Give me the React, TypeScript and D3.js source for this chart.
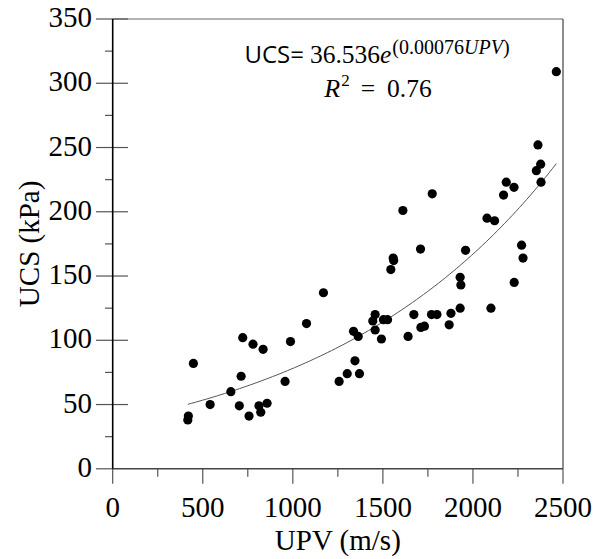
import React from "react";
import * as d3 from "d3";

const upv = [417,420,448,541,656,703,713,722,757,779,812,822,835,857,957,987,1076,1170,1257,1302,1370,1345,1337,1363,1457,1444,1457,1492,1503,1526,1544,1557,1560,1640,1672,1709,1711,1731,1770,1800,1868,1878,1929,1933,1929,1959,2100,2229,2270,2278,2463,2361,2376,2352,2378,2185,2228,2170,2078,2120,1774,1611];
const ucs = [38,41,82,50,60,49,72,102,41,97,49,44,93,51,68,99,113,137,68,74,74,84,107,103,120,115,108,101,116,116,155,164,162,103,120,171,110,111,120,120,112,121,149,143,125,170,125,145,174,164,309,252,237,232,223,223,219,213,195,193,214,201];
const xTicks = [0, 500, 1000, 1500, 2000, 2500];
const yTicks = [0, 50, 100, 150, 200, 250, 300, 350];
const fitA = 36.536;
const fitB = 0.00076;

const W = 594, H = 559;
const L = 112.7, R = 563, T = 19, B = 468.8;

const SERIF = "Liberation Serif";
const SANS = "Open Sans";

export default function App() {
  const x = d3.scaleLinear().domain([0, 2500]).range([L, R]);
  const y = d3.scaleLinear().domain([0, 350]).range([B, T]);
  const xMinor = d3.range(250, 2500, 500);
  const yMinor = d3.range(25, 350, 50);
  const xMin = d3.min(upv) as number, xMax = d3.max(upv) as number;
  const curvePts = d3.range(0, 101).map(i => {
    const u = xMin + (xMax - xMin) * i / 100;
    return [u, fitA * Math.exp(fitB * u)] as [number, number];
  });
  const line = d3.line<[number, number]>().x(d => x(d[0])).y(d => y(d[1]));
  const tickCol = "#555";
  return (
    <svg width={W} height={H} fontFamily={SERIF}
      style={{ position: "absolute", left: 0, top: 0, background: "#fff", fontFamily: SERIF }}>
      <rect x={0} y={0} width={W} height={H} fill="#fff" />
      {/* frame */}
      <line x1={L} x2={R} y1={T} y2={T} stroke="#666" strokeWidth={1.2} />
      <line x1={R} x2={R} y1={T} y2={B} stroke="#444" strokeWidth={1.2} />
      {/* y ticks */}
      {yTicks.map(t => (
        <g key={"yt" + t}>
          <line x1={96} x2={t === 0 ? L : 128} y1={y(t)} y2={y(t)} stroke={tickCol} strokeWidth={1.2} />
          <text x={92} y={y(t) + 8} textAnchor="end" fontFamily={SERIF} style={{ fontFamily: SERIF }} fontSize={29} fill="#000">{t}</text>
        </g>
      ))}
      {yMinor.map(t => (
        <line key={"ym" + t} x1={105} x2={L} y1={y(t)} y2={y(t)} stroke={tickCol} strokeWidth={1.2} />
      ))}
      {/* x ticks */}
      {xTicks.map(t => (
        <g key={"xt" + t}>
          <line x1={x(t)} x2={x(t)} y1={B} y2={B + 15} stroke={tickCol} strokeWidth={1.2} />
          <text x={x(t)} y={517} textAnchor="middle" fontFamily={SERIF} style={{ fontFamily: SERIF }} fontSize={29} fill="#000">{t}</text>
        </g>
      ))}
      {xMinor.map(t => (
        <line key={"xm" + t} x1={x(t)} x2={x(t)} y1={B} y2={B + 8} stroke={tickCol} strokeWidth={1.2} />
      ))}
      {/* axes */}
      <line x1={L} x2={R} y1={B} y2={B} stroke="#444" strokeWidth={1.4} />
      <line x1={L} x2={L} y1={T} y2={B} stroke="#000" strokeWidth={1.6} />
      {/* fit curve */}
      <path d={line(curvePts) || ""} fill="none" stroke="#555" strokeWidth={1} />
      {/* points */}
      {upv.map((u, i) => (
        <circle key={"p" + i} cx={x(u)} cy={y(ucs[i])} r={4.6} fill="#000" />
      ))}
      {/* titles */}
      <text x={(L + R) / 2} y={550} textAnchor="middle" fontFamily={SERIF} style={{ fontFamily: SERIF }} fontSize={29} fill="#000">UPV (m/s)</text>
      <text transform={`translate(39,${(T + B) / 2}) rotate(-90)`} textAnchor="middle" fontFamily={SERIF} style={{ fontFamily: SERIF }} fontSize={29} fill="#000">UCS (kPa)</text>
      {/* equation */}
      <text x={377} y={63} textAnchor="middle" fill="#000" style={{ fontFamily: SERIF }}>
        <tspan style={{ fontFamily: SANS }} fontSize={24}>UCS=</tspan>
        <tspan fontSize={25.5} dx={6}>36.536</tspan>
        <tspan fontSize={25.5} fontStyle="italic">e</tspan>
        <tspan fontSize={20} dy={-9} dx={1}>(0.00076</tspan>
        <tspan fontSize={20} fontStyle="italic">UPV</tspan>
        <tspan fontSize={20}>)</tspan>
      </text>
      <text x={378} y={97} textAnchor="middle" fill="#000" style={{ fontFamily: SERIF }}>
        <tspan fontSize={26} fontStyle="italic">R</tspan>
        <tspan fontSize={17} dy={-11} dx={1}>2</tspan>
        <tspan fontSize={25.5} dy={11} dx={11}>=</tspan>
        <tspan fontSize={25.5} dx={12}>0.76</tspan>
      </text>
    </svg>
  );
}
